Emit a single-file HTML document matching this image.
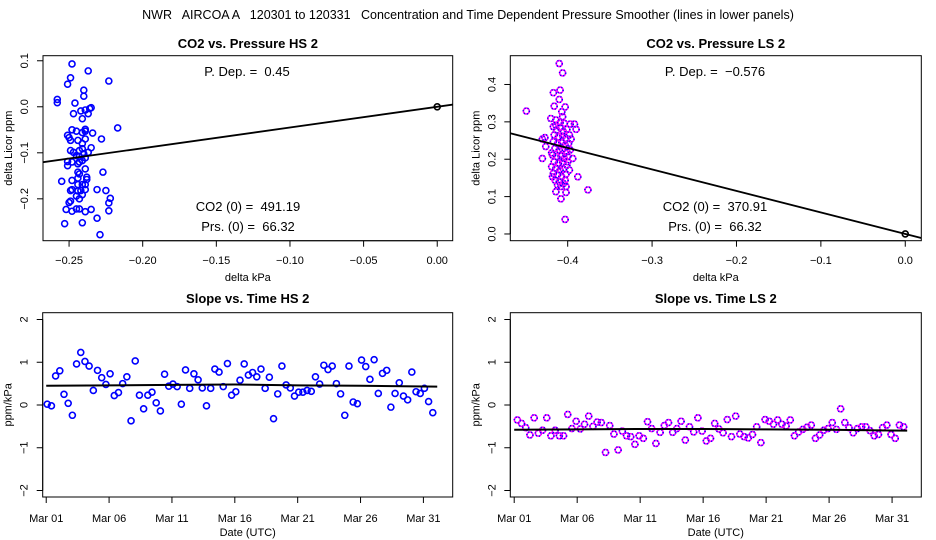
<!DOCTYPE html>
<html><head><meta charset="utf-8"><style>
html,body{margin:0;padding:0;background:#fff;}
svg{display:block;font-family:"Liberation Sans",Arial,sans-serif;}
svg text{white-space:pre;}
</style></head><body>
<svg id="chart" width="936" height="540" viewBox="0 0 936 540">
<rect width="936" height="540" fill="#fff"/>
<text x="468" y="19" text-anchor="middle" font-size="12.5" xml:space="preserve">NWR   AIRCOA A   120301 to 120331   Concentration and Time Dependent Pressure Smoother (lines in lower panels)</text>
</svg>
<script>
// ---- data: top-left (HS) CO2 vs pressure ----
const hsPx=[-0.248,-0.249,-0.251,-0.237,-0.223,-0.240,-0.240,-0.258,-0.258,-0.246,-0.247,-0.241,-0.242,-0.239,-0.236,-0.235,-0.237,-0.217,-0.248,-0.245,-0.239,-0.239,-0.241,-0.234,-0.228,-0.251,-0.250,-0.249,-0.244,-0.239,-0.241,-0.235,-0.249,-0.247,-0.243,-0.241,-0.240,-0.237,-0.243,-0.239,-0.251,-0.251,-0.248,-0.241,-0.244,-0.244,-0.239,-0.243,-0.227,-0.255,-0.248,-0.244,-0.238,-0.238,-0.241,-0.239,-0.248,-0.249,-0.244,-0.242,-0.239,-0.231,-0.225,-0.245,-0.241,-0.243,-0.249,-0.250,-0.222,-0.223,-0.223,-0.252,-0.248,-0.245,-0.243,-0.239,-0.235,-0.231,-0.253,-0.241,-0.229,-0.244,-0.243,-0.245];
const hsPy=[0.093,0.063,0.049,0.078,0.056,0.036,0.023,0.016,0.009,0.008,-0.015,-0.026,-0.009,-0.007,-0.004,-0.002,-0.015,-0.046,-0.050,-0.053,-0.049,-0.053,-0.056,-0.057,-0.070,-0.062,-0.067,-0.073,-0.073,-0.070,-0.080,-0.089,-0.095,-0.099,-0.095,-0.091,-0.102,-0.099,-0.108,-0.111,-0.119,-0.128,-0.120,-0.117,-0.124,-0.142,-0.135,-0.146,-0.142,-0.162,-0.160,-0.155,-0.153,-0.158,-0.169,-0.169,-0.180,-0.182,-0.183,-0.182,-0.180,-0.180,-0.182,-0.194,-0.191,-0.200,-0.205,-0.208,-0.199,-0.209,-0.226,-0.223,-0.227,-0.222,-0.222,-0.228,-0.223,-0.242,-0.254,-0.252,-0.278,-0.169,-0.120,-0.106];
const hsSlope=0.45;
const hsXTicks=[-0.25,-0.20,-0.15,-0.10,-0.05,0.00];
const hsXTickLabels=["\u22120.25","\u22120.20","\u22120.15","\u22120.10","\u22120.05","0.00"];
const hsYTicks=[0.1,0.0,-0.1,-0.2];
const hsYTickLabels=["0.1","0.0","\u22120.1","\u22120.2"];
// ---- data: top-right (LS) ----
const lsPx=[-0.410,-0.406,-0.417,-0.409,-0.410,-0.416,-0.403,-0.449,-0.407,-0.420,-0.414,-0.406,-0.397,-0.392,-0.390,-0.427,-0.430,-0.426,-0.430,-0.419,-0.394,-0.388,-0.376,-0.398,-0.403,-0.414,-0.408,-0.403,-0.402,-0.402,
 -0.417,-0.413,-0.409,-0.405,-0.401,-0.416,-0.411,-0.406,-0.402,-0.398,-0.417,-0.412,-0.407,-0.403,-0.399,-0.415,-0.410,-0.406,-0.401,-0.418,-0.413,-0.408,-0.404,-0.400,-0.416,-0.411,-0.406,-0.401,-0.414,-0.409,-0.405,-0.417,-0.412,-0.407,-0.402,-0.415,-0.410,-0.405,-0.408,-0.412,-0.419,-0.397,-0.396,-0.418,-0.400,-0.404,-0.409,-0.414];
const lsPy=[0.456,0.431,0.378,0.385,0.360,0.342,0.340,0.329,0.327,0.309,0.305,0.314,0.294,0.294,0.280,0.258,0.254,0.234,0.202,0.217,0.202,0.153,0.118,0.171,0.144,0.113,0.094,0.039,0.111,0.127,
 0.287,0.278,0.285,0.274,0.280,0.265,0.260,0.262,0.256,0.265,0.247,0.242,0.244,0.238,0.242,0.229,0.225,0.226,0.220,0.211,0.207,0.208,0.202,0.207,0.193,0.189,0.191,0.184,0.176,0.171,0.173,0.162,0.158,0.153,0.160,0.144,0.140,0.135,0.127,0.131,0.180,0.225,0.254,0.153,0.193,0.296,0.298,0.291];
const lsSlope=-0.576;
const lsXTicks=[-0.4,-0.3,-0.2,-0.1,0.0];
const lsXTickLabels=["\u22120.4","\u22120.3","\u22120.2","\u22120.1","0.0"];
const lsYTicks=[0.0,0.1,0.2,0.3,0.4];
const lsYTickLabels=["0.0","0.1","0.2","0.3","0.4"];
// ---- data: bottom panels (slope vs time) ----
const hsTStart=1.08, lsTStart=1.25, sampleStepDays=1/3;
const hsSlopeVals=[0.02,-0.02,0.68,0.80,0.25,0.04,-0.24,0.96,1.23,1.02,0.91,0.34,0.81,0.64,0.48,0.73,0.22,0.29,0.50,0.66,-0.37,1.03,0.23,-0.09,0.23,0.30,0.05,-0.14,0.72,0.44,0.49,0.43,0.02,0.82,0.39,0.73,0.59,0.40,-0.02,0.39,0.84,0.77,0.43,0.97,0.23,0.31,0.58,0.96,0.70,0.76,0.66,0.84,0.39,0.65,-0.32,0.26,0.91,0.47,0.40,0.21,0.30,0.30,0.34,0.32,0.66,0.49,0.93,0.83,0.91,0.50,0.26,-0.24,0.91,0.07,0.03,1.05,0.90,0.60,1.06,0.27,0.74,0.81,-0.05,0.27,0.52,0.21,0.12,0.77,0.31,0.27,0.39,0.08,-0.18];
const lsSlopeVals=[-0.35,-0.43,-0.53,-0.70,-0.30,-0.66,-0.59,-0.30,-0.72,-0.59,-0.72,-0.72,-0.22,-0.55,-0.38,-0.56,-0.45,-0.26,-0.50,-0.40,-0.41,-1.11,-0.48,-0.68,-1.05,-0.61,-0.72,-0.74,-0.92,-0.72,-0.78,-0.39,-0.55,-0.90,-0.64,-0.48,-0.41,-0.64,-0.55,-0.38,-0.82,-0.51,-0.63,-0.30,-0.61,-0.84,-0.78,-0.43,-0.56,-0.65,-0.34,-0.74,-0.26,-0.68,-0.74,-0.77,-0.69,-0.51,-0.88,-0.34,-0.38,-0.45,-0.35,-0.45,-0.49,-0.35,-0.72,-0.63,-0.57,-0.52,-0.47,-0.78,-0.70,-0.59,-0.55,-0.41,-0.57,-0.09,-0.41,-0.53,-0.65,-0.55,-0.51,-0.51,-0.60,-0.72,-0.69,-0.53,-0.47,-0.69,-0.78,-0.47,-0.51];
const hsSmoothDays=[1,6,11,16,21,26,32.1];
const hsSmoothVals=[0.45,0.46,0.47,0.48,0.46,0.45,0.43];
const lsSmoothDays=[1,6,11,16,21,26,32.2];
const lsSmoothVals=[-0.58,-0.57,-0.56,-0.56,-0.57,-0.58,-0.60];
const dateTicks=[1,6,11,16,21,26,31];
const dateTickLabels=["Mar 01","Mar 06","Mar 11","Mar 16","Mar 21","Mar 26","Mar 31"];
const slopeYTicks=[2,1,0,-1,-2];
const slopeYTickLabels=["2","1","0","\u22121","\u22122"];

const svg=document.getElementById('chart');
const NS='http://www.w3.org/2000/svg';
function mk(tag,attrs,parent){const e=document.createElementNS(NS,tag);for(const k in attrs)e.setAttribute(k,attrs[k]);(parent||svg).appendChild(e);return e;}
function scale(d0,d1,r0,r1){return v=>r0+(v-d0)*(r1-r0)/(d1-d0);}

function panel(o){
  const g=mk('g',{});
  
  
  const X=scale(o.xd[0],o.xd[1],o.L,o.R), Y=scale(o.yd[0],o.yd[1],o.B,o.T);
  const t=mk('text',{x:(o.L+o.R)/2,y:o.titleY,'text-anchor':'middle','font-size':13,'font-weight':'bold'},g);t.textContent=o.title;
  
  
  const xa=mk('g',{},g);
  
  
  const xs=o.xticks.map(X);
  mk('line',{x1:xs[0],x2:xs[xs.length-1],y1:o.B,y2:o.B,stroke:'#000'},xa);
  o.xticks.forEach((v,i)=>{
    mk('line',{x1:X(v),x2:X(v),y1:o.B,y2:o.B+6,stroke:'#000'},xa);
    const tl=mk('text',{x:X(v),y:o.xLabY,'text-anchor':'middle','font-size':11},xa);tl.textContent=o.xlabels[i];
    
    
  });
  const xt=mk('text',{x:(o.L+o.R)/2,y:o.xTitleY,'text-anchor':'middle','font-size':11},g);xt.textContent=o.xtitle;
  
  
  const ya=mk('g',{},g);
  
  
  const ys=o.yticks.map(Y);
  mk('line',{x1:o.L,x2:o.L,y1:Math.min(...ys),y2:Math.max(...ys),stroke:'#000'},ya);
  o.yticks.forEach((v,i)=>{
    mk('line',{x1:o.L-6,x2:o.L,y1:Y(v),y2:Y(v),stroke:'#000'},ya);
    const tl=mk('text',{x:0,y:0,'text-anchor':'middle','font-size':11,transform:`translate(${o.L-15},${Y(v)}) rotate(-90)`},ya);tl.textContent=o.ylabels[i];
    
    
  });
  const yt=mk('text',{x:0,y:0,'text-anchor':'middle','font-size':11,transform:`translate(${o.L-31},${(o.T+o.B)/2}) rotate(-90)`},g);yt.textContent=o.ytitle;
  
  
  const box=mk('rect',{x:o.L,y:o.T,width:o.R-o.L,height:o.B-o.T,fill:'none',stroke:'#000'},g);
  
  
  const clipId='c'+o.name;
  const cp=mk('clipPath',{id:clipId},g);mk('rect',{x:o.L,y:o.T,width:o.R-o.L,height:o.B-o.T},cp);
  const plot=mk('g',{'clip-path':`url(#${clipId})`},g);
  
  
  return {g,plot,X,Y};
}
function dot(parent,x,y,ls){
  const c=mk('circle',{cx:x,cy:y,r:3,fill:'none',stroke:ls?'#ff00ff':'#0000ff','stroke-width':1.6},parent);
  
  
  if(ls){mk('circle',{cx:x,cy:y,r:3,fill:'none',stroke:'#0000ff','stroke-width':1.6,'stroke-dasharray':'1 2'},parent);}
}
function label(g,x,y,s){const t=mk('text',{x:x,y:y,'text-anchor':'middle','font-size':13},g);t.textContent=s;
  t.setAttribute('xml:space','preserve');
  
  }

(function(){
  const p=panel({name:'co2-vs-pressure-hs',title:'CO2 vs. Pressure HS 2',L:43,R:452.7,T:55.7,B:240.7,xd:[-0.2677,0.0105],yd:[-0.291,0.111],
    xticks:hsXTicks,xlabels:hsXTickLabels,yticks:hsYTicks,ylabels:hsYTickLabels,titleY:48,xLabY:264,xTitleY:281,xtitle:'delta kPa',ytitle:'delta Licor ppm'});
  hsPx.forEach((x,i)=>dot(p.plot,p.X(x),p.Y(hsPy[i]),false));
  const l=mk('line',{x1:p.X(-0.3),y1:p.Y(hsSlope*-0.3),x2:p.X(0.02),y2:p.Y(hsSlope*0.02),stroke:'#000','stroke-width':1.8},p.plot);
  
  
  mk('circle',{cx:p.X(0),cy:p.Y(0),r:3,fill:'none',stroke:'#000','stroke-width':1.6},p.plot);
  label(p.g,247,76,'P. Dep. =  0.45');
  label(p.g,248,211,'CO2 (0) =  491.19');
  label(p.g,248,231,'Prs. (0) =  66.32');
})();
(function(){
  const p=panel({name:'co2-vs-pressure-ls',title:'CO2 vs. Pressure LS 2',L:510.3,R:921.3,T:55.7,B:240.7,xd:[-0.468,0.019],yd:[-0.018,0.477],
    xticks:lsXTicks,xlabels:lsXTickLabels,yticks:lsYTicks,ylabels:lsYTickLabels,titleY:48,xLabY:264,xTitleY:281,xtitle:'delta kPa',ytitle:'delta Licor ppm'});
  lsPx.forEach((x,i)=>dot(p.plot,p.X(x),p.Y(lsPy[i]),true));
  const l=mk('line',{x1:p.X(-0.5),y1:p.Y(lsSlope*-0.5),x2:p.X(0.03),y2:p.Y(lsSlope*0.03),stroke:'#000','stroke-width':1.8},p.plot);
  
  
  mk('circle',{cx:p.X(0),cy:p.Y(0),r:3,fill:'none',stroke:'#000','stroke-width':1.6},p.plot);
  label(p.g,715,76,'P. Dep. =  \u22120.576');
  label(p.g,715,211,'CO2 (0) =  370.91');
  label(p.g,715,231,'Prs. (0) =  66.32');
})();
function slopePanel(name,title,L,R,xd,tStart,vals,sd,sv,ls){
  const p=panel({name:name,title:title,L:L,R:R,T:312.7,B:497,xd:xd,yd:[-2.152,2.159],
    xticks:dateTicks,xlabels:dateTickLabels,yticks:slopeYTicks,ylabels:slopeYTickLabels,titleY:303,xLabY:522,xTitleY:536,xtitle:'Date (UTC)',ytitle:'ppm/kPa'});
  vals.forEach((v,i)=>dot(p.plot,p.X(tStart+i*sampleStepDays),p.Y(v),ls));
  const pl=mk('polyline',{points:sd.map((d,i)=>p.X(d)+','+p.Y(sv[i])).join(' '),fill:'none',stroke:'#000','stroke-width':2},p.plot);
  
  
}
slopePanel('slope-vs-time-hs','Slope vs. Time HS 2',42.7,452.7,[0.72,33.33],hsTStart,hsSlopeVals,hsSmoothDays,hsSmoothVals,false);
slopePanel('slope-vs-time-ls','Slope vs. Time LS 2',510.3,921.3,[0.69,33.32],lsTStart,lsSlopeVals,lsSmoothDays,lsSmoothVals,true);
</script>
</body></html>
